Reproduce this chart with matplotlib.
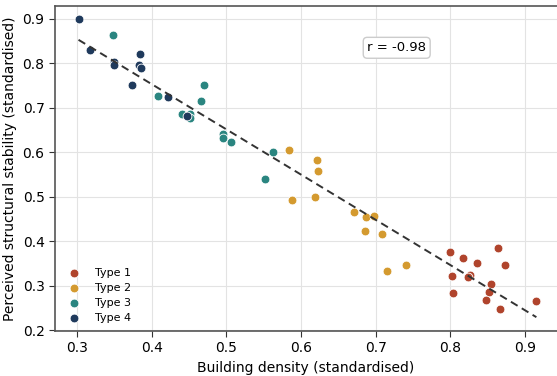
import numpy as np
import matplotlib
matplotlib.use("Agg")
import matplotlib.pyplot as plt

types = ["Type 1", "Type 2", "Type 3", "Type 4"]
colors = ["#b0442c", "#d49a2f", "#2a8580", "#1f3a5c"]

t1_x = [0.799, 0.817, 0.835, 0.864, 0.873, 0.802, 0.826, 0.823, 0.854, 0.851, 0.804, 0.848, 0.866, 0.915]
t1_y = [0.376, 0.363, 0.351, 0.384, 0.346, 0.321, 0.325, 0.319, 0.303, 0.286, 0.283, 0.267, 0.247, 0.265]

t2_x = [0.584, 0.588, 0.621, 0.623, 0.618, 0.671, 0.687, 0.697, 0.685, 0.708, 0.715, 0.740]
t2_y = [0.606, 0.493, 0.582, 0.557, 0.500, 0.466, 0.454, 0.457, 0.423, 0.416, 0.333, 0.347]

t3_x = [0.348, 0.408, 0.470, 0.466, 0.440, 0.451, 0.451, 0.496, 0.496, 0.506, 0.562, 0.552]
t3_y = [0.864, 0.726, 0.752, 0.715, 0.685, 0.687, 0.678, 0.640, 0.633, 0.622, 0.601, 0.540]

t4_x = [0.302, 0.317, 0.350, 0.350, 0.384, 0.383, 0.385, 0.373, 0.422, 0.447]
t4_y = [0.899, 0.830, 0.803, 0.797, 0.820, 0.797, 0.789, 0.752, 0.724, 0.682]

xs = [t1_x, t2_x, t3_x, t4_x]
ys = [t1_y, t2_y, t3_y, t4_y]

fig = plt.figure(figsize=(5.57, 3.76), dpi=100)
ax = fig.add_axes([55/557, 1 - 331/376, 1 - 55/557, (331 - 6)/376])

ax.grid(True, color="#e3e3e3", linewidth=0.8, zorder=0)
ax.set_axisbelow(True)

for x, y, c, lab in zip(xs, ys, colors, types):
    ax.scatter(x, y, s=40, color=c, edgecolor="white", linewidth=0.6, label=lab, zorder=3)

allx = np.concatenate([np.array(v) for v in xs])
ally = np.concatenate([np.array(v) for v in ys])
slope, intercept = np.polyfit(allx, ally, 1)
r = np.corrcoef(allx, ally)[0, 1]
lx = np.array([allx.min(), allx.max()])
ax.plot(lx, slope * lx + intercept, color="#333333", linestyle=(0, (4, 2.5)), linewidth=1.4, zorder=4)

ax.text(0.728, 0.835, f"r = {r:.2f}", fontsize=9.5, ha="center", va="center", zorder=5,
        bbox=dict(boxstyle="round,pad=0.3", facecolor="white", edgecolor="#cccccc"))

ax.set_xlim(0.2705, 0.9426)
ax.set_ylim(0.198, 0.929)
ax.set_xticks([0.3, 0.4, 0.5, 0.6, 0.7, 0.8, 0.9])
ax.set_yticks([0.2, 0.3, 0.4, 0.5, 0.6, 0.7, 0.8, 0.9])
ax.tick_params(axis="both", labelsize=10, color="#333333", length=4)

for side in ["left", "bottom", "top"]:
    ax.spines[side].set_color("#555555")
    ax.spines[side].set_linewidth(1.2)
ax.spines["right"].set_visible(False)

ax.set_xlabel("Building density (standardised)", fontsize=10)
ax.set_ylabel("Perceived structural stability (standardised)", fontsize=10)

ax.legend(loc="lower left", frameon=False, fontsize=8, handletextpad=0.9, labelspacing=0.45,
          borderaxespad=0.3)

fig.savefig("out.png", dpi=100)
